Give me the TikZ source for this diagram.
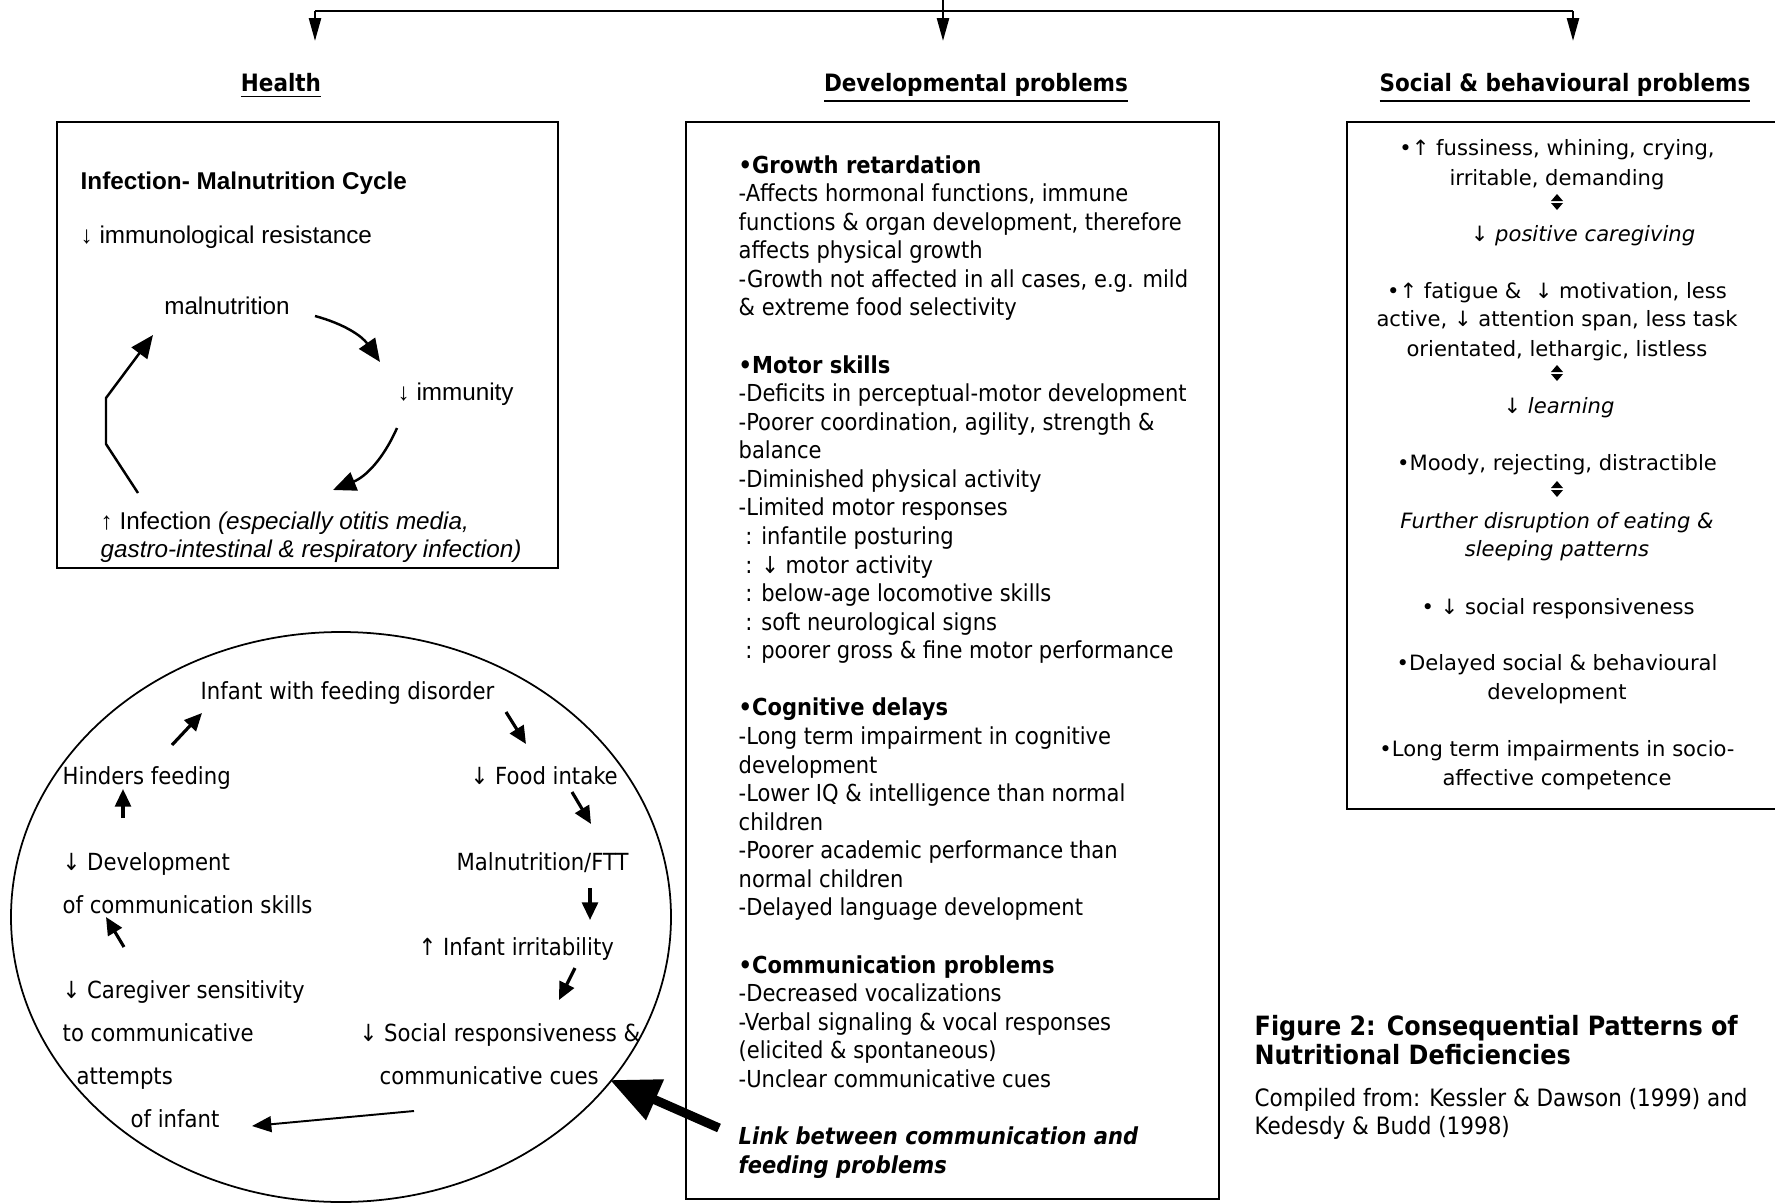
\documentclass[tikz,border=0pt]{standalone}
\usepackage{fontspec}
\usetikzlibrary{arrows.meta}
\newfontfamily\tah{DejaVu Sans Condensed}[ItalicFont={DejaVu Sans Condensed Oblique},BoldFont={DejaVu Sans Condensed Bold},BoldItalicFont={DejaVu Sans Condensed Bold Oblique}]
\newfontfamily\ver{DejaVu Sans}
\newfontfamily\ari{Liberation Sans}
\tikzset{
  px/.style={x=0.01cm,y=-0.01cm},
  boxframe/.style={draw=black,line width=0.65pt},
  headtxt/.style={font=\tah\bfseries\fontsize{6.8}{8}\selectfont,anchor=base,inner sep=0},
  htxt/.style={font=\ari\fontsize{6.9}{8}\selectfont,anchor=base west,inner sep=0},
  ctxt/.style={font=\tah\fontsize{6.7}{8}\selectfont,anchor=base west,inner sep=0},
  rtxt/.style={font=\ver\fontsize{6.0}{7.5}\selectfont,anchor=base,inner sep=0},
  cyc/.style={line width=0.7pt,-{Triangle[length=6.5pt,width=5.5pt]}},
  smallarr/.style={line width=0.9pt,-{Triangle[length=5pt,width=4.5pt]}},
  thinarr/.style={line width=0.55pt,-{Triangle[length=5.5pt,width=4.5pt]}},
  bigarr/.style={line width=2.6pt,-{Triangle[length=14pt,width=12pt]}},
  toparr/.style={line width=0.7pt,-{Triangle[length=6.5pt,width=3.4pt]}},
  updn/.pic={\fill (-6,-1)--(6,-1)--(0,-8)--cycle; \fill (-6,1)--(6,1)--(0,8)--cycle;}
}
\begin{document}
\begin{tikzpicture}[px]
\useasboundingbox (0,0) rectangle (1775,1203);
\clip (0,0) rectangle (1775,1203);
% ---------- top distribution arrows
\coordinate (src) at (943,0);
\coordinate (barL) at (315,11);
\coordinate (barR) at (1573,11);
\coordinate (tH) at (315,41);
\coordinate (tD) at (943,41);
\coordinate (tS) at (1573,41);
\draw[line width=0.7pt] (barL) -- (barR);
\draw[toparr] (src) -- (tD);
\draw[toparr] (barL) -- (tH);
\draw[toparr] (barR) -- (tS);
% ---------- headings
\node[headtxt] (hHealth) at (281,91) {\underline{Health}};
\node[headtxt] (hDev) at (976,91) {\underline{Developmental problems}};
\node[headtxt] (hSoc) at (1565,91) {\underline{Social \& behavioural problems}};
% ---------- boxes
\draw[boxframe] (57,122) rectangle (558,568);
\draw[boxframe] (686,122) rectangle (1219,1199);
\draw[boxframe] (1347,122) rectangle (1800,809);
% ---------- health box
\node[htxt,font=\ari\bfseries\fontsize{6.9}{8}\selectfont] (cycT) at (80,189) {Infection- Malnutrition Cycle};
\node[htxt] (res) at (80,243) {↓ immunological resistance};
\node[htxt,anchor=base] (mal) at (227,314) {malnutrition};
\node[htxt] (imm) at (397,400) {↓ immunity};
\node[htxt] (inf1) at (100,529) {↑ Infection \textit{(especially otitis media,}};
\node[htxt] (inf2) at (100,557) {\textit{gastro-intestinal \& respiratory infection)}};
\coordinate (m1) at (315,316);
\coordinate (m2) at (380,362);
\coordinate (i1) at (397,428);
\coordinate (i2) at (333,490);
\coordinate (p1) at (138,493);
\coordinate (p2) at (106,444);
\coordinate (p3) at (106,398);
\coordinate (p4) at (153,335);
\draw[cyc] (m1) to[bend left=20] (m2);
\draw[cyc] (i1) to[bend left=22] (i2);
\draw[cyc] (p1) -- (p2) -- (p3) -- (p4);
% ---------- feeding circle
\draw[line width=0.5pt] (341,917) ellipse [x radius=330, y radius=285];
\node[ctxt] (c1) at (200,699) {Infant with feeding disorder};
\node[ctxt] (c2) at (470,784) {↓ Food intake};
\node[ctxt] (c3) at (456,870) {Malnutrition/FTT};
\node[ctxt] (c4) at (418,955) {↑ Infant irritability};
\node[ctxt] (c5) at (359,1041) {↓ Social responsiveness \&};
\node[ctxt] (c5b) at (379,1084) {communicative cues};
\node[ctxt] (c6) at (62,998) {↓ Caregiver sensitivity};
\node[ctxt] (c6b) at (62,1041) {to communicative};
\node[ctxt] (c6c) at (76,1084) {attempts};
\node[ctxt] (c6d) at (130,1127) {of infant};
\node[ctxt] (c7) at (62,870) {↓ Development};
\node[ctxt] (c7b) at (62,913) {of communication skills};
\node[ctxt] (c8) at (62,784) {Hinders feeding};
\coordinate (a1s) at (172,745); \coordinate (a1e) at (202,713);
\coordinate (a2s) at (506,712); \coordinate (a2e) at (526,744);
\coordinate (a3s) at (572,792); \coordinate (a3e) at (591,824);
\coordinate (a4s) at (590,888); \coordinate (a4e) at (590,920);
\coordinate (a5s) at (575,968); \coordinate (a5e) at (559,1000);
\coordinate (a6s) at (414,1111); \coordinate (a6e) at (252,1126);
\coordinate (a7s) at (124,947); \coordinate (a7e) at (106,917);
\coordinate (a8s) at (123,818); \coordinate (a8e) at (123,789);
\draw[smallarr] (a1s) -- (a1e);
\draw[smallarr] (a2s) -- (a2e);
\draw[smallarr] (a3s) -- (a3e);
\draw[smallarr] (a4s) -- (a4e);
\draw[smallarr] (a5s) -- (a5e);
\draw[thinarr] (a6s) -- (a6e);
\draw[smallarr] (a7s) -- (a7e);
\draw[smallarr] (a8s) -- (a8e);
\coordinate (linkS) at (719,1128);
\coordinate (linkE) at (610,1080);
\draw[bigarr] (linkS) -- (linkE);
% ---------- developmental box
\node[anchor=base west,inner sep=0,font=\tah] (dev) at (738,173) {\parbox[t]{160pt}{\fontsize{6.65}{8.126}\selectfont\raggedright
\textbf{•Growth retardation}\\
-Affects hormonal functions, immune\\
functions \& organ development, therefore\\
affects physical growth\\
-Growth not affected in all cases, e.g. mild\\
\& extreme food selectivity\\
\mbox{}\\
\textbf{•Motor skills}\\
-Deficits in perceptual-motor development\\
-Poorer coordination, agility, strength \&\\
balance\\
-Diminished physical activity\\
-Limited motor responses\\
\ : infantile posturing\\
\ : ↓ motor activity\\
\ : below-age locomotive skills\\
\ : soft neurological signs\\
\ : poorer gross \& fine motor performance\\
\mbox{}\\
\textbf{•Cognitive delays}\\
-Long term impairment in cognitive\\
development\\
-Lower IQ \& intelligence than normal\\
children\\
-Poorer academic performance than\\
normal children\\
-Delayed language development\\
\mbox{}\\
\textbf{•Communication problems}\\
-Decreased vocalizations\\
-Verbal signaling \& vocal responses\\
(elicited \& spontaneous)\\
-Unclear communicative cues\\
\mbox{}\\
\textbf{\textit{Link between communication and}}\\
\textbf{\textit{feeding problems}}}};
% ---------- social box
\node[rtxt] (s1) at (1557,156) {•↑ fussiness, whining, crying,};
\node[rtxt] (s1b) at (1557,185) {irritable, demanding};
\pic at (1557,202) {updn};
\node[rtxt] (s2) at (1583,241) {↓ \textit{positive caregiving}};
\node[rtxt] (s3) at (1557,298) {•↑ fatigue \&\ \ ↓ motivation, less};
\node[rtxt] (s3b) at (1557,326) {active, ↓ attention span, less task};
\node[rtxt] (s3c) at (1557,356) {orientated, lethargic, listless};
\pic at (1557,373) {updn};
\node[rtxt] (s4) at (1559,413) {↓ \textit{learning}};
\node[rtxt] (s5) at (1557,470) {•Moody, rejecting, distractible};
\pic at (1557,489) {updn};
\node[rtxt] (s6) at (1557,528) {\textit{Further disruption of eating \&}};
\node[rtxt] (s6b) at (1557,556) {\textit{sleeping patterns}};
\node[rtxt] (s7) at (1558,614) {• ↓ social responsiveness};
\node[rtxt] (s8) at (1557,670) {•Delayed social \& behavioural};
\node[rtxt] (s8b) at (1557,699) {development};
\node[rtxt] (s9) at (1557,756) {•Long term impairments in socio-};
\node[rtxt] (s9b) at (1557,785) {affective competence};
% ---------- caption
\node[anchor=base west,inner sep=0,font=\tah] (cap) at (1254,1035) {\parbox[t]{200pt}{\fontsize{7.55}{8.4}\selectfont\bfseries\raggedright
Figure 2: Consequential Patterns of\\
Nutritional Deficiencies}};
\node[anchor=base west,inner sep=0,font=\tah] (src2) at (1254,1106) {\parbox[t]{200pt}{\fontsize{6.8}{8}\selectfont\raggedright
Compiled from: Kessler \& Dawson (1999) and\\
Kedesdy \& Budd (1998)}};
\end{tikzpicture}
\end{document}
